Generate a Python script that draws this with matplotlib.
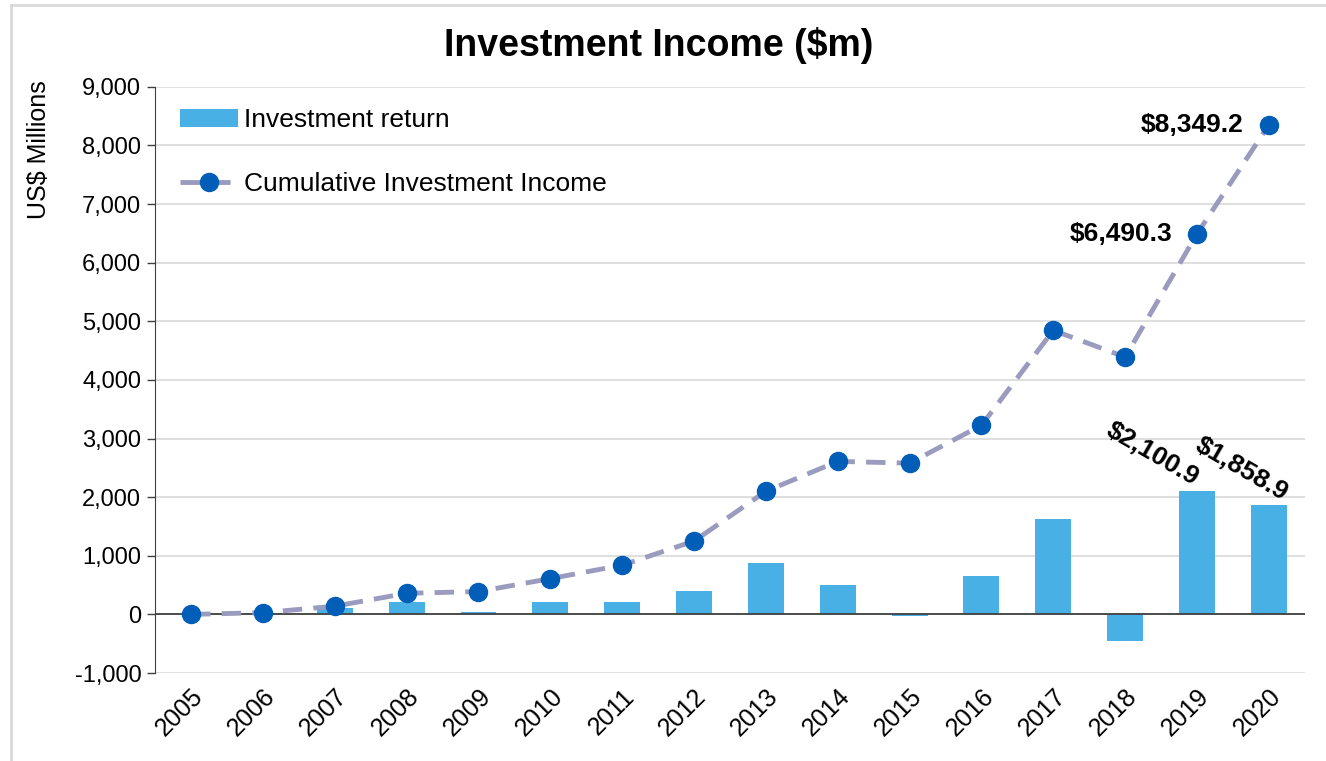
import numpy as np
import matplotlib.pyplot as plt
from matplotlib.lines import Line2D

plt.rcParams['font.family'] = ['Liberation Sans', 'DejaVu Sans']

# -------------------------
# DATA
# -------------------------
years = ["2005", "2006", "2007", "2008", "2009", "2010", "2011", "2012",
         "2013", "2014", "2015", "2016", "2017", "2018", "2019", "2020"]
investment_return = [10, 20, 110, 220, 40, 220, 220, 400,
                     870, 500, -30, 650, 1620, -450, 2100.9, 1858.9]
cumulative_income = [0, 30, 140, 360, 390, 610, 840, 1250,
                     2100, 2610, 2580, 3225, 4845, 4390, 6490.3, 8349.2]

bar_labels = {14: ("$2,100.9", (-4, 1)), 15: ("$1,858.9", (8, 0))}
line_labels = {14: "$6,490.3", 15: "$8,349.2"}

# -------------------------
# FIGURE
# -------------------------
fig = plt.figure(figsize=(13.26, 7.61), dpi=100)
ax = fig.add_axes([0.117, 0.1156, 0.867, 0.7704])

# chart frame (only top and left edges visible in the crop)
fig.add_artist(Line2D([11 / 1326, 11 / 1326], [0, 1 - 5 / 761], transform=fig.transFigure,
                      color="#d9d9d9", linewidth=2))
fig.add_artist(Line2D([11 / 1326, 1], [1 - 5 / 761, 1 - 5 / 761], transform=fig.transFigure,
                      color="#d9d9d9", linewidth=2))

x = np.arange(len(years))
ax.bar(x, investment_return, width=0.5, color="#49b0e6", zorder=2,
       label="Investment return")
ax.plot(x, cumulative_income, color="#9b9bbf", linestyle=(0, (4, 2.3)), linewidth=3.5,
        marker="o", markersize=13, markerfacecolor="#005eb8", markeredgecolor="#005eb8",
        zorder=3, label="Cumulative Investment Income")

ax.axhline(0, color="#404040", linewidth=1.3, zorder=2.5)

for i, (txt, off) in bar_labels.items():
    ax.annotate(txt, (x[i], investment_return[i]), xytext=off, textcoords="offset points",
                ha="right", va="bottom", rotation=-30, rotation_mode="anchor",
                fontsize=19, fontweight="bold")

for i, txt in line_labels.items():
    ax.annotate(txt, (x[i], cumulative_income[i]), xytext=(-18, 0), textcoords="offset points",
                ha="right", va="center", fontsize=19, fontweight="bold")

# -------------------------
# AXES STYLING
# -------------------------
ax.set_xlim(-0.5, len(years) - 0.5)
ax.set_ylim(-1000, 9000)
ax.set_yticks(np.arange(-1000, 9001, 1000))
ax.set_yticklabels([f"{v:,}" for v in range(-1000, 9001, 1000)], fontsize=17)
ax.set_xticks(x)
ax.set_xticklabels(years, fontsize=18, rotation=45, ha="right", rotation_mode="anchor")
ax.tick_params(axis="x", length=0, pad=8)
ax.tick_params(axis="y", length=6, width=1, color="#404040", pad=4)

ax.grid(axis="y", color="#d9d9d9", linewidth=1.2, zorder=0)
ax.set_axisbelow(True)
for s in ["top", "right", "bottom"]:
    ax.spines[s].set_visible(False)
ax.spines["left"].set_color("#404040")

ax.set_ylabel("US$ Millions", fontsize=18)
ax.yaxis.set_label_coords(-0.091, 0.892)
fig.text(0.497, 1 - 46 / 761, "Investment Income ($m)", fontsize=27, fontweight="bold",
         ha="center", va="center")

handles, labels = ax.get_legend_handles_labels()
order = [labels.index("Investment return"), labels.index("Cumulative Investment Income")]
ax.legend([handles[k] for k in order], [labels[k] for k in order],
          loc="upper left", frameon=False, fontsize=19, handlelength=2.2,
          labelspacing=1.5, handletextpad=0.2, borderaxespad=0,
          bbox_to_anchor=(0.0126, 0.981))

fig.savefig("out.png", dpi=100)
